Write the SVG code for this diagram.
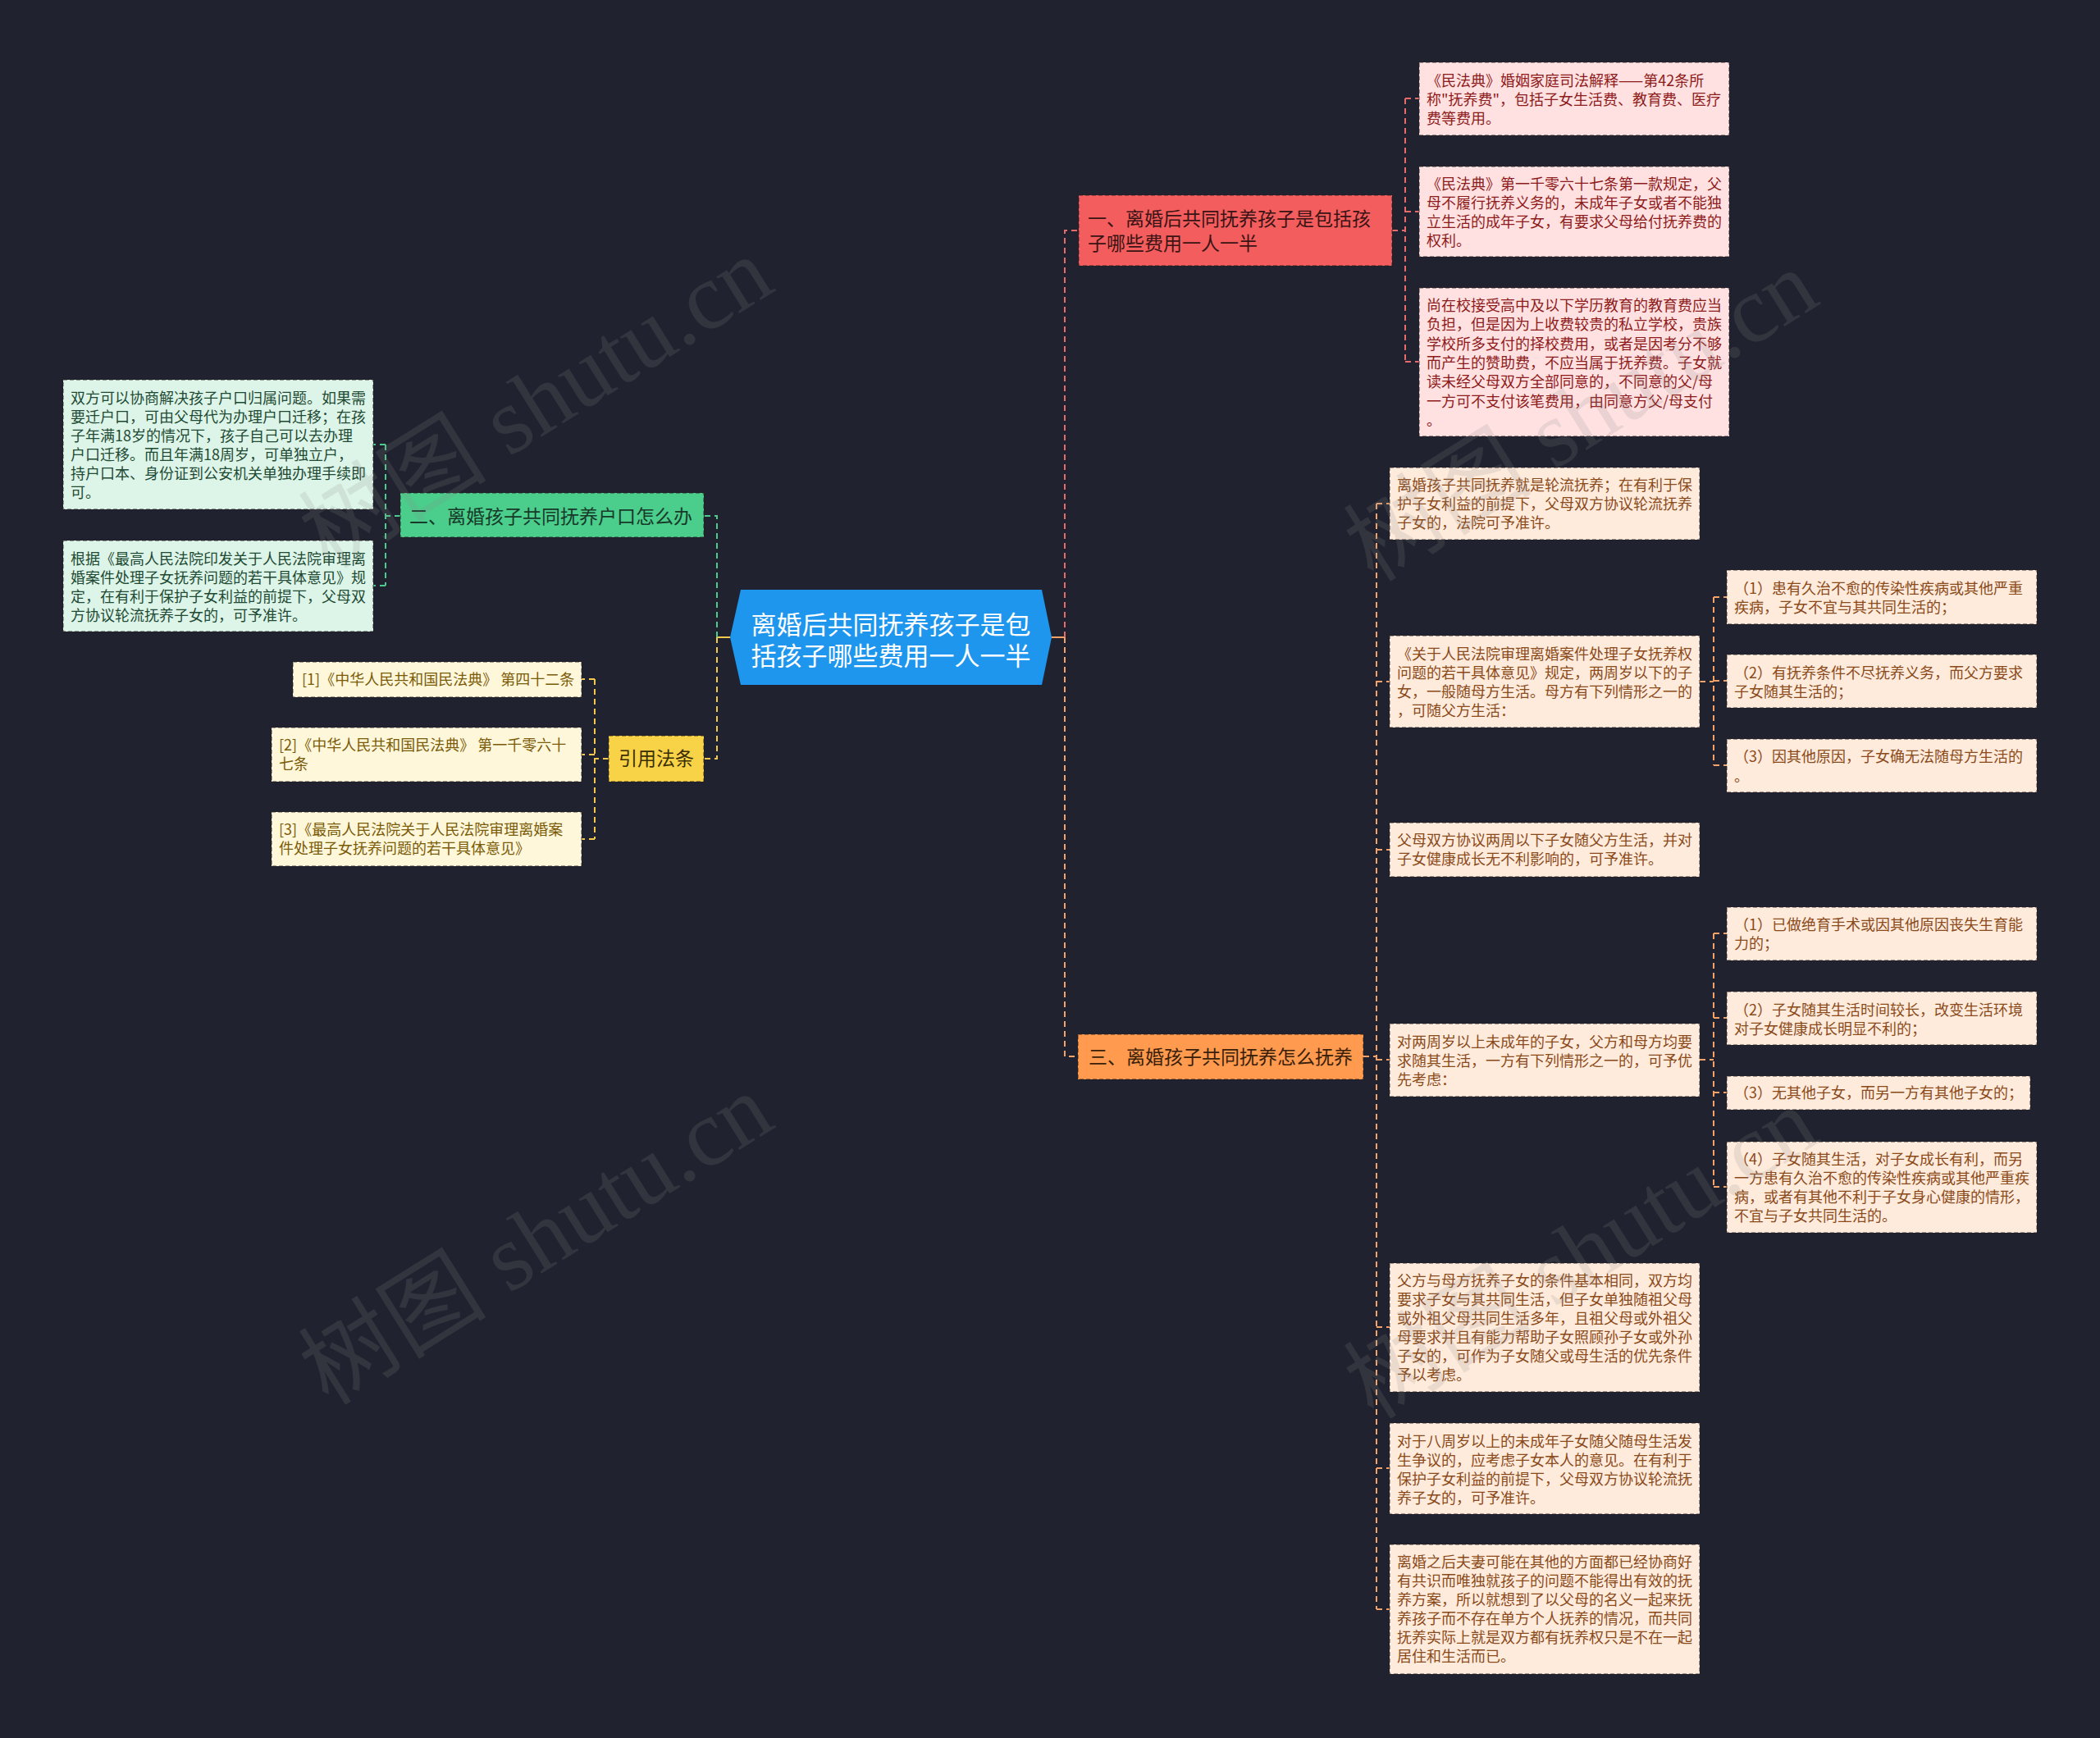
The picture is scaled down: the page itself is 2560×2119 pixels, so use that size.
<svg xmlns="http://www.w3.org/2000/svg" width="2560" height="2119" viewBox="0 0 2560 2119">
<style>
.t{font-family:"Noto Sans CJK SC","Noto Sans",sans-serif;font-size:18px;}
.m{font-family:"Noto Sans CJK SC","Noto Sans",sans-serif;font-size:23px;}
.box{stroke:rgba(40,30,30,0.55);stroke-width:1.5;stroke-dasharray:5 3;}
.rb{fill:#FFE1E1;} .rt{fill:#8E1B1B;}
.gb{fill:#DDF5E8;} .gt{fill:#1E4A34;}
.yb{fill:#FFF7DA;} .yt{fill:#7A5B08;}
.ob{fill:#FFEBDC;} .ot{fill:#8A4A1A;}
.cr{stroke:#E86B6B;} .cg{stroke:#4CCB8C;} .cy{stroke:#F2C94C;} .co{stroke:#F4A268;}
.c path,.c line{fill:none;stroke-width:2;stroke-dasharray:7 5;}
.wm{font-family:"Liberation Serif","Noto Sans CJK SC",serif;font-size:115px;fill:#8a8a8a;opacity:0.17;}
</style>
<rect width="2560" height="2119" fill="#20232F"/>

<g class="c" id="connectors">
  <line class="co" x1="1282" y1="777" x2="1298" y2="777" style="stroke-dasharray:none"/>
  <path class="cr" d="M1298 777 V281 H1315"/>
  <path class="co" d="M1298 777 V1288 H1314"/>
  <line class="cy" x1="890" y1="777" x2="874" y2="777" style="stroke-dasharray:none"/>
  <path class="cg" d="M874 777 V629 H858"/>
  <path class="cy" d="M874 777 V925 H858"/>
  <path class="cr" d="M1697 281 H1713 M1713 120 V441 M1713 120 H1730 M1713 258 H1730 M1713 441 H1730"/>
  <path class="cg" d="M488 629 H470 M470 542 V714 M470 542 H455 M470 714 H455"/>
  <path class="cy" d="M742 925 H725 M725 828 V1023 M725 828 H709 M725 920 H709 M725 1023 H709"/>
  <path class="co" d="M1662 1288 H1678 M1678 614 V1962 M1678 614 H1694 M1678 831 H1694 M1678 1036 H1694 M1678 1292 H1694 M1678 1618 H1694 M1678 1790 H1694 M1678 1962 H1694"/>
  <path class="co" d="M2072 831 H2089 M2089 728 V933 M2089 728 H2105 M2089 830 H2105 M2089 933 H2105"/>
  <path class="co" d="M2072 1292 H2089 M2089 1138 V1447 M2089 1138 H2105 M2089 1241 H2105 M2089 1332 H2105 M2089 1447 H2105"/>
</g>

<g id="root">
  <polygon points="890,777 903,719 1270,719 1282,777 1270,835 903,835" fill="#1E96EE"/>
  <text x="1086" y="773" text-anchor="middle" font-family="Noto Sans CJK SC, sans-serif" font-size="31" fill="#FFFFFF">离婚后共同抚养孩子是包</text>
  <text x="1086" y="811" text-anchor="middle" font-family="Noto Sans CJK SC, sans-serif" font-size="31" fill="#FFFFFF">括孩子哪些费用一人一半</text>
</g>

<g id="b1">
  <rect class="box" x="1315" y="238" width="382" height="86" fill="#F45D5D"/>
  <text class="m" x="1326" fill="#3A1414"><tspan x="1326" y="275">一、离婚后共同抚养孩子是包括孩</tspan><tspan x="1326" y="305">子哪些费用一人一半</tspan></text>
</g>
<g id="b1c1">
  <rect class="box rb" x="1730" y="76" width="378" height="89"/>
  <text class="t rt"><tspan x="1739" y="105">《民法典》婚姻家庭司法解释——第42条所</tspan><tspan x="1739" y="128">称"抚养费"，包括子女生活费、教育费、医疗</tspan><tspan x="1739" y="151">费等费用。</tspan></text>
</g>
<g id="b1c2">
  <rect class="box rb" x="1730" y="203" width="378" height="110"/>
  <text class="t rt"><tspan x="1739" y="231">《民法典》第一千零六十七条第一款规定，父</tspan><tspan x="1739" y="254">母不履行抚养义务的，未成年子女或者不能独</tspan><tspan x="1739" y="277">立生活的成年子女，有要求父母给付抚养费的</tspan><tspan x="1739" y="300">权利。</tspan></text>
</g>
<g id="b1c3">
  <rect class="box rb" x="1730" y="351" width="378" height="181"/>
  <text class="t rt"><tspan x="1739" y="379">尚在校接受高中及以下学历教育的教育费应当</tspan><tspan x="1739" y="402">负担，但是因为上收费较贵的私立学校，贵族</tspan><tspan x="1739" y="425.5">学校所多支付的择校费用，或者是因考分不够</tspan><tspan x="1739" y="449">而产生的赞助费，不应当属于抚养费。子女就</tspan><tspan x="1739" y="472">读未经父母双方全部同意的，不同意的父/母</tspan><tspan x="1739" y="495.5">一方可不支付该笔费用，由同意方父/母支付</tspan><tspan x="1739" y="519">。</tspan></text>
</g>

<g id="b2">
  <rect class="box" x="488" y="601" width="370" height="54" fill="#4BCD8C"/>
  <text class="m" x="499" y="638" fill="#173A29">二、离婚孩子共同抚养户口怎么办</text>
</g>
<g id="b2c1">
  <rect class="box gb" x="77" y="463" width="378" height="158"/>
  <text class="t gt"><tspan x="86" y="492">双方可以协商解决孩子户口归属问题。如果需</tspan><tspan x="86" y="515">要迁户口，可由父母代为办理户口迁移；在孩</tspan><tspan x="86" y="538">子年满18岁的情况下，孩子自己可以去办理</tspan><tspan x="86" y="561">户口迁移。而且年满18周岁，可单独立户，</tspan><tspan x="86" y="584">持户口本、身份证到公安机关单独办理手续即</tspan><tspan x="86" y="607">可。</tspan></text>
</g>
<g id="b2c2">
  <rect class="box gb" x="77" y="659" width="378" height="111"/>
  <text class="t gt"><tspan x="86" y="688">根据《最高人民法院印发关于人民法院审理离</tspan><tspan x="86" y="711">婚案件处理子女抚养问题的若干具体意见》规</tspan><tspan x="86" y="734">定，在有利于保护子女利益的前提下，父母双</tspan><tspan x="86" y="757">方协议轮流抚养子女的，可予准许。</tspan></text>
</g>

<g id="b4">
  <rect class="box" x="742" y="897" width="116" height="56" fill="#F8D348"/>
  <text class="m" x="800" y="933" text-anchor="middle" fill="#3A2E05">引用法条</text>
</g>
<g id="b4c1">
  <rect class="box yb" x="357" y="807" width="352" height="43"/>
  <text class="t yt" x="368" y="835">[1]《中华人民共和国民法典》 第四十二条</text>
</g>
<g id="b4c2">
  <rect class="box yb" x="331" y="887" width="378" height="66"/>
  <text class="t yt"><tspan x="340" y="915">[2]《中华人民共和国民法典》 第一千零六十</tspan><tspan x="340" y="938">七条</tspan></text>
</g>
<g id="b4c3">
  <rect class="box yb" x="331" y="990" width="378" height="66"/>
  <text class="t yt"><tspan x="340" y="1018">[3]《最高人民法院关于人民法院审理离婚案</tspan><tspan x="340" y="1041">件处理子女抚养问题的若干具体意见》</tspan></text>
</g>

<g id="b3">
  <rect class="box" x="1314" y="1261" width="348" height="55" fill="#FF9A4E"/>
  <text class="m" x="1327" y="1297" fill="#3A1F0A">三、离婚孩子共同抚养怎么抚养</text>
</g>
<g id="b3c1">
  <rect class="box ob" x="1694" y="570" width="378" height="88"/>
  <text class="t ot"><tspan x="1703" y="598">离婚孩子共同抚养就是轮流抚养；在有利于保</tspan><tspan x="1703" y="621">护子女利益的前提下，父母双方协议轮流抚养</tspan><tspan x="1703" y="644">子女的，法院可予准许。</tspan></text>
</g>
<g id="b3c2">
  <rect class="box ob" x="1694" y="775" width="378" height="112"/>
  <text class="t ot"><tspan x="1703" y="804">《关于人民法院审理离婚案件处理子女抚养权</tspan><tspan x="1703" y="827">问题的若干具体意见》规定，两周岁以下的子</tspan><tspan x="1703" y="850">女，一般随母方生活。母方有下列情形之一的</tspan><tspan x="1703" y="873">，可随父方生活：</tspan></text>
</g>
<g id="b3c2a">
  <rect class="box ob" x="2105" y="695" width="378" height="66"/>
  <text class="t ot"><tspan x="2114" y="724">（1）患有久治不愈的传染性疾病或其他严重</tspan><tspan x="2114" y="747">疾病，子女不宜与其共同生活的；</tspan></text>
</g>
<g id="b3c2b">
  <rect class="box ob" x="2105" y="798" width="378" height="65"/>
  <text class="t ot"><tspan x="2114" y="827">（2）有抚养条件不尽抚养义务，而父方要求</tspan><tspan x="2114" y="850">子女随其生活的；</tspan></text>
</g>
<g id="b3c2c">
  <rect class="box ob" x="2105" y="901" width="378" height="65"/>
  <text class="t ot"><tspan x="2114" y="929">（3）因其他原因，子女确无法随母方生活的</tspan><tspan x="2114" y="953">。</tspan></text>
</g>
<g id="b3c3">
  <rect class="box ob" x="1694" y="1003" width="378" height="66"/>
  <text class="t ot"><tspan x="1703" y="1031">父母双方协议两周以下子女随父方生活，并对</tspan><tspan x="1703" y="1054">子女健康成长无不利影响的，可予准许。</tspan></text>
</g>
<g id="b3c4">
  <rect class="box ob" x="1694" y="1248" width="378" height="89"/>
  <text class="t ot"><tspan x="1703" y="1277">对两周岁以上未成年的子女，父方和母方均要</tspan><tspan x="1703" y="1300">求随其生活，一方有下列情形之一的，可予优</tspan><tspan x="1703" y="1323">先考虑：</tspan></text>
</g>
<g id="b3c4a">
  <rect class="box ob" x="2105" y="1106" width="378" height="65"/>
  <text class="t ot"><tspan x="2114" y="1134">（1）已做绝育手术或因其他原因丧失生育能</tspan><tspan x="2114" y="1157">力的；</tspan></text>
</g>
<g id="b3c4b">
  <rect class="box ob" x="2105" y="1209" width="378" height="65"/>
  <text class="t ot"><tspan x="2114" y="1238">（2）子女随其生活时间较长，改变生活环境</tspan><tspan x="2114" y="1261">对子女健康成长明显不利的；</tspan></text>
</g>
<g id="b3c4c">
  <rect class="box ob" x="2105" y="1312" width="370" height="41"/>
  <text class="t ot" x="2114" y="1339">（3）无其他子女，而另一方有其他子女的；</text>
</g>
<g id="b3c4d">
  <rect class="box ob" x="2105" y="1392" width="378" height="111"/>
  <text class="t ot"><tspan x="2114" y="1420">（4）子女随其生活，对子女成长有利，而另</tspan><tspan x="2114" y="1443">一方患有久治不愈的传染性疾病或其他严重疾</tspan><tspan x="2114" y="1466">病，或者有其他不利于子女身心健康的情形，</tspan><tspan x="2114" y="1489">不宜与子女共同生活的。</tspan></text>
</g>
<g id="b3c5">
  <rect class="box ob" x="1694" y="1540" width="378" height="157"/>
  <text class="t ot"><tspan x="1703" y="1568">父方与母方抚养子女的条件基本相同，双方均</tspan><tspan x="1703" y="1591">要求子女与其共同生活，但子女单独随祖父母</tspan><tspan x="1703" y="1614">或外祖父母共同生活多年，且祖父母或外祖父</tspan><tspan x="1703" y="1637">母要求并且有能力帮助子女照顾孙子女或外孙</tspan><tspan x="1703" y="1660">子女的，可作为子女随父或母生活的优先条件</tspan><tspan x="1703" y="1683">予以考虑。</tspan></text>
</g>
<g id="b3c6">
  <rect class="box ob" x="1694" y="1735" width="378" height="111"/>
  <text class="t ot"><tspan x="1703" y="1764">对于八周岁以上的未成年子女随父随母生活发</tspan><tspan x="1703" y="1787">生争议的，应考虑子女本人的意见。在有利于</tspan><tspan x="1703" y="1810">保护子女利益的前提下，父母双方协议轮流抚</tspan><tspan x="1703" y="1833">养子女的，可予准许。</tspan></text>
</g>
<g id="b3c7">
  <rect class="box ob" x="1694" y="1883" width="378" height="158"/>
  <text class="t ot"><tspan x="1703" y="1911">离婚之后夫妻可能在其他的方面都已经协商好</tspan><tspan x="1703" y="1934">有共识而唯独就孩子的问题不能得出有效的抚</tspan><tspan x="1703" y="1957">养方案，所以就想到了以父母的名义一起来抚</tspan><tspan x="1703" y="1980">养孩子而不存在单方个人抚养的情况，而共同</tspan><tspan x="1703" y="2003">抚养实际上就是双方都有抚养权只是不在一起</tspan><tspan x="1703" y="2026">居住和生活而已。</tspan></text>
</g>

<g id="watermarks">
  <text class="wm" x="653" y="530" text-anchor="middle" transform="rotate(-32 653 490)">树图 shutu.cn</text>
  <text class="wm" x="1927" y="546" text-anchor="middle" transform="rotate(-32 1927 506)">树图 shutu.cn</text>
  <text class="wm" x="653" y="1550" text-anchor="middle" transform="rotate(-32 653 1510)">树图 shutu.cn</text>
  <text class="wm" x="1927" y="1567" text-anchor="middle" transform="rotate(-32 1927 1527)">树图 shutu.cn</text>
</g>
</svg>
